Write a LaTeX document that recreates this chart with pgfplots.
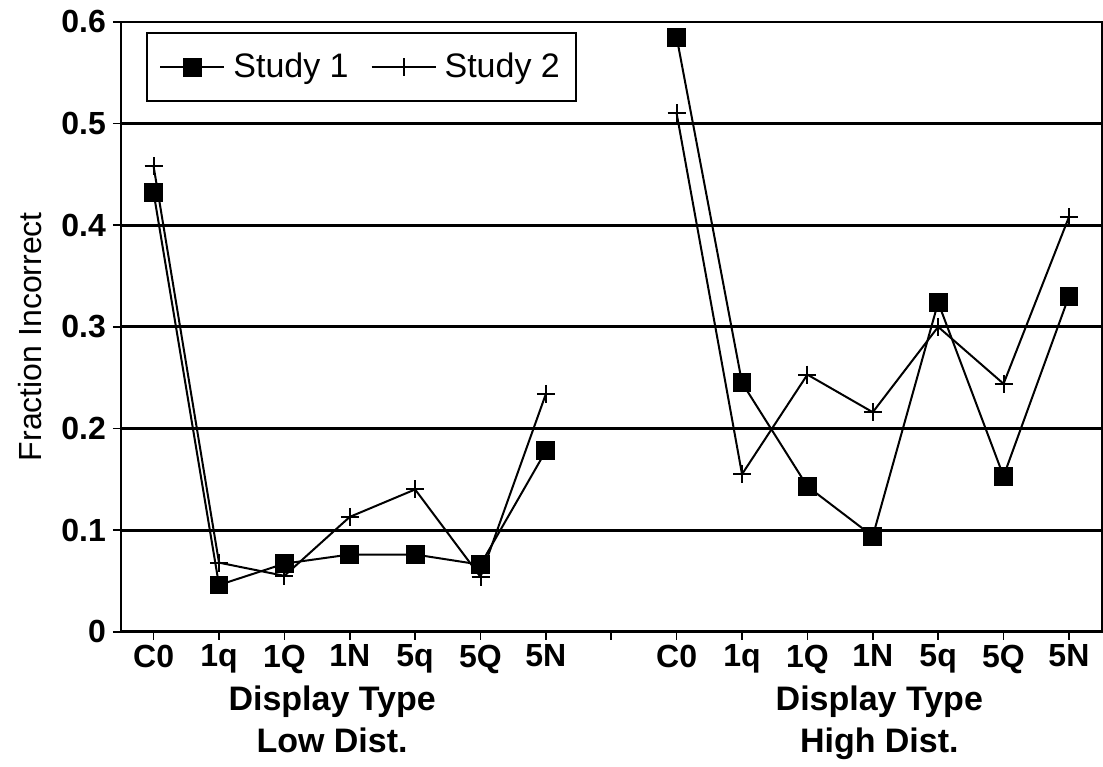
\documentclass[border=0pt]{standalone}
\usepackage{fontspec}
\setmainfont{Liberation Sans}
\usepackage{pgfplots}
\pgfplotsset{compat=1.18}
\begin{document}
\begin{tikzpicture}
\begin{axis}[
  scale only axis, width=490.5pt, height=305pt,
  xmin=-0.5, xmax=14.5, ymin=0, ymax=0.6,
  xtick={0,1,2,3,4,5,6,7,8,9,10,11,12,13,14},
  xticklabels={C0,1q,1Q,1N,5q,5Q,5N,{},C0,1q,1Q,1N,5q,5Q,5N},
  ytick={0,0.1,0.2,0.3,0.4,0.5,0.6},
  yticklabels={0,0.1,0.2,0.3,0.4,0.5,0.6},
  /pgf/number format/assume math mode=true,
  ymajorgrids,
  grid style={black, line width=1.4pt},
  axis line style={black, line width=1pt},
  tick align=outside, major tick length=4pt,
  tick style={black, line width=0.8pt},
  xtick pos=bottom, ytick pos=left,
  ticklabel style={font=\fontsize{16}{19}\selectfont\bfseries},
  xticklabel style={yshift=1pt},
  ylabel={Fraction Incorrect},
  ylabel style={font=\fontsize{16}{19}\selectfont, at={(rel axis cs:-0.093,0.484)}, anchor=center},
  clip=false,
  unbounded coords=jump,
  legend columns=2,
  legend style={at={(0.026,0.983)}, anchor=north west, draw=black, line width=1pt,
    font=\fontsize{17}{20}\selectfont, inner xsep=6pt, inner ysep=8pt,
    /tikz/every even column/.append style={column sep=9pt},
    /tikz/every odd column/.append style={column sep=2pt}},
  legend image code/.code={\draw[mark repeat=2,mark phase=2,#1] plot coordinates {(0pt,0pt) (16pt,0pt) (32pt,0pt)};},
]
\addplot[black, line width=1pt, mark=square*, mark size=4.2pt, mark options={solid, fill=black}]
coordinates {(0,0.432) (1,0.046) (2,0.067) (3,0.076) (4,0.076) (5,0.066) (6,0.178) (7,nan)
 (8,0.585) (9,0.245) (10,0.143) (11,0.094) (12,0.324) (13,0.153) (14,0.330)};
\addlegendentry{Study 1}
\addplot[black, line width=1pt, mark=+, mark size=4.5pt, mark options={solid, line width=1pt}]
coordinates {(0,0.458) (1,0.068) (2,0.055) (3,0.113) (4,0.140) (5,0.054) (6,0.234) (7,nan)
 (8,0.510) (9,0.155) (10,0.253) (11,0.216) (12,0.300) (13,0.244) (14,0.408)};
\addlegendentry{Study 2}
\node[anchor=north, align=center, inner sep=0pt, font=\fontsize{17}{21}\selectfont\bfseries]
  at (axis cs:2.73,0) [yshift=-27pt] {Display Type\\Low Dist.};
\node[anchor=north, align=center, inner sep=0pt, font=\fontsize{17}{21}\selectfont\bfseries]
  at (axis cs:11.1,0) [yshift=-27pt] {Display Type\\High Dist.};
\path (rel axis cs:-0.1233,-0.2213) rectangle (rel axis cs:1.001,1.036);
\end{axis}
\end{tikzpicture}
\end{document}
